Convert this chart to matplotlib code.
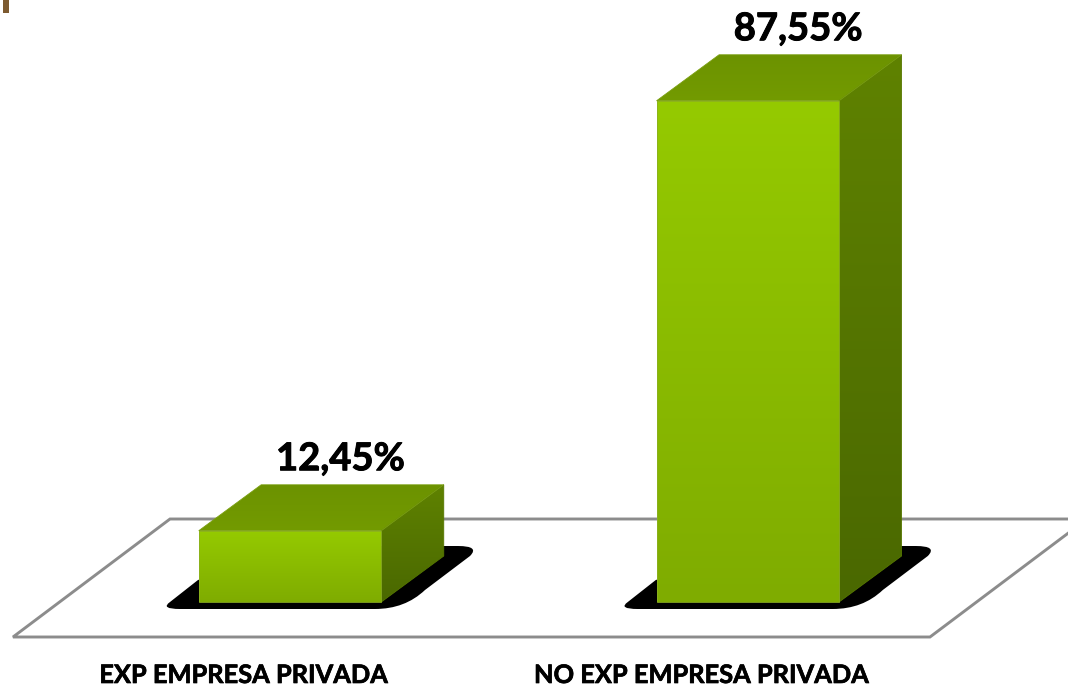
import matplotlib
matplotlib.use("Agg")
import numpy as np
import matplotlib.pyplot as plt
import matplotlib.patheffects as pe
from matplotlib.colors import LinearSegmentedColormap as LSC
from matplotlib.patches import Polygon, PathPatch, Rectangle
from matplotlib.path import Path

categories = ["EXP EMPRESA PRIVADA", "NO EXP EMPRESA PRIVADA"]
values = [12.45, 87.55]
value_labels = ["12,45%", "87,55%"]

W, H = 1068, 685
PX_PER_UNIT = 5.725
BASE_PY = 602.0
X0_PX, STEP_PX = 290.0, 457.8
BAR_W_PX, DEPTH_X, DEPTH_Y = 182.5, 62.5, 46.0

plt.rcParams["font.family"] = ["Lato", "DejaVu Sans"]
fig = plt.figure(figsize=(W / 100, H / 100), dpi=100, facecolor="white")
ax = fig.add_axes([0, 0, 1, 1])
ax.set_xlim((0 - X0_PX) / STEP_PX, (W - X0_PX) / STEP_PX)
ax.set_ylim((BASE_PY - H) / PX_PER_UNIT, BASE_PY / PX_PER_UNIT)
ax.axis("off")
xl, yl = ax.get_xlim(), ax.get_ylim()


def dx(px):
    return px / STEP_PX


def dy(px):
    return px / PX_PER_UNIT


def P(px, py):
    return ((px - X0_PX) / STEP_PX, (BASE_PY - py) / PX_PER_UNIT)


# floor
floor = [(13, 637), (930, 637), (1087, 519), (170, 519)]
ax.add_patch(Polygon([P(*p) for p in floor], closed=True, fc="white",
                     ec="#8c8c8c", lw=2.1, joinstyle="miter", zorder=1))


def shadow(i):
    off = i * STEP_PX
    v = [(170, 602), (198, 580), (300, 546), (458, 546), (480, 546), (470, 556),
         (425, 590), (405, 609), (375, 609), (180, 609), (160, 609), (170, 602)]
    codes = [Path.MOVETO, Path.LINETO, Path.LINETO, Path.LINETO, Path.CURVE3, Path.CURVE3,
             Path.LINETO, Path.CURVE3, Path.CURVE3, Path.LINETO, Path.CURVE3, Path.CURVE3]
    pts = [P(x + off, y) for x, y in v]
    ax.add_patch(PathPatch(Path(pts, codes), fc="black", ec="none", zorder=2))


def grad_face(poly, top, bottom, y_top, y_bot, z, edge=None):
    cmap = LSC.from_list("g", [top, bottom])
    im = ax.imshow(np.linspace(0, 1, 256).reshape(-1, 1), cmap=cmap, aspect="auto",
                   origin="upper", interpolation="bilinear",
                   extent=(xl[0], xl[1], y_bot, y_top), zorder=z)
    clip = Polygon(poly, closed=True, transform=ax.transData, fc="none", ec="none")
    ax.add_patch(clip)
    im.set_clip_path(clip)
    if edge:
        ax.add_patch(Polygon(poly, closed=True, fc="none", ec=edge, lw=0.6, zorder=z + 0.1))


stroke_big = [pe.withStroke(linewidth=0.7, foreground="black")]
stroke_small = [pe.withStroke(linewidth=0.5, foreground="black")]

for i, (val, lab, cat) in enumerate(zip(values, value_labels, categories)):
    shadow(i)
    l, r = i - dx(BAR_W_PX) / 2, i + dx(BAR_W_PX) / 2
    ddx, ddy = dx(DEPTH_X), dy(DEPTH_Y)
    top_face = [(l, val), (r, val), (r + ddx, val + ddy), (l + ddx, val + ddy)]
    side = [(r, 0), (r + ddx, ddy), (r + ddx, val + ddy), (r, val)]
    front = [(l, 0), (r, 0), (r, val), (l, val)]
    grad_face(side, "#5f8200", "#4a6800", val + ddy, 0, 3, "#577800")
    grad_face(top_face, "#6c9200", "#739b00", val + ddy, val, 3, "#7a9f10")
    grad_face(front, "#95ca00", "#7fac00", val, 0, 4, "#8cb020")
    ax.text(i + dx(50.5), val + ddy + dy(14.5), lab, ha="center", va="baseline",
            fontsize=27.5, fontweight="bold", color="black", zorder=6,
            path_effects=stroke_big)
    cx, cy = P(243 + i * STEP_PX, 683)
    ax.text(cx, cy, cat, ha="center", va="baseline", fontsize=18.3,
            fontweight="bold", color="black", zorder=6, path_effects=stroke_small)

# small brown mark in the corner
x0, y1 = P(3, 0)
x1, y0 = P(9, 13)
ax.add_patch(Rectangle((x0, y0), x1 - x0, y1 - y0, fc="#7d5a30", ec="none", zorder=6))
ax.set_xlim(xl)
ax.set_ylim(yl)
fig.savefig("out.png", dpi=100, facecolor="white")
